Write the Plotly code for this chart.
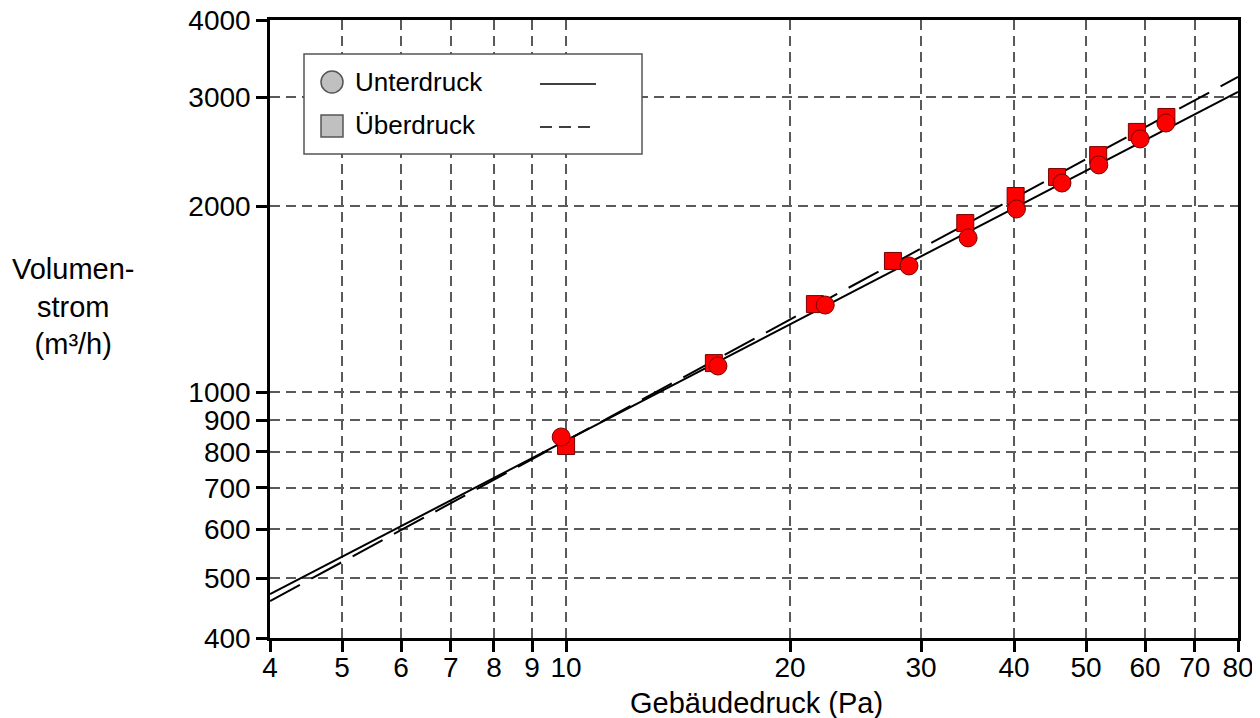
import plotly.graph_objects as go

# ---- data ----
unter_p = [9.85, 16.0, 22.3, 28.9, 34.7, 40.3, 46.4, 52.0, 59.1, 64.0]
unter_v = [846, 1102, 1383, 1600, 1776, 1978, 2179, 2331, 2568, 2725]
ueber_p = [10.0, 15.8, 21.6, 27.5, 34.4, 40.2, 45.7, 51.9, 58.5, 64.1]
ueber_v = [818, 1114, 1388, 1630, 1877, 2076, 2228, 2418, 2636, 2787]
fit_p = [4, 80]
unter_fit = [471, 3060]
ueber_fit = [459, 3236]
x_ticks = [4, 5, 6, 7, 8, 9, 10, 20, 30, 40, 50, 60, 70, 80]
y_ticks = [400, 500, 600, 700, 800, 900, 1000, 2000, 3000, 4000]

# page body has an 8px margin; size the figure so the plot area lands where intended
OFF = 8
W, H = 1260 - OFF, 718 - OFF
L, R, T, B = 270, 1238, 20, 638  # plot area in window pixels
FONT = "Liberation Sans, Arial, sans-serif"

def px(x):
    return (x - L) / (R - L)

def py(y):
    return (B - y) / (B - T)

fig = go.Figure()
fig.add_trace(go.Scatter(x=fit_p, y=unter_fit, mode="lines",
                         line=dict(color="black", width=2), showlegend=False))
fig.add_trace(go.Scatter(x=fit_p, y=ueber_fit, mode="lines",
                         line=dict(color="black", width=2, dash="34px,13px"), showlegend=False))
fig.add_trace(go.Scatter(x=ueber_p, y=ueber_v, mode="markers",
                         marker=dict(symbol="square", size=17, color="#ff0000",
                                     line=dict(color="#7a0000", width=1)),
                         showlegend=False))
fig.add_trace(go.Scatter(x=unter_p, y=unter_v, mode="markers",
                         marker=dict(symbol="circle", size=18, color="#ff0000",
                                     line=dict(color="#7a0000", width=1)),
                         showlegend=False))

axis_common = dict(
    type="log", showline=True, linecolor="black", linewidth=2.5, mirror=True,
    ticks="outside", ticklen=11, tickwidth=2.5, tickcolor="black",
    showgrid=True, gridcolor="#5a5a5a", gridwidth=1.5, griddash="10px,6px",
    zeroline=False, automargin=False, ticklabeloverflow="allow",
    tickfont=dict(family=FONT, size=28, color="black"),
)

fig.update_xaxes(range=[0.60206, 1.90309], tickvals=x_ticks,
                 ticktext=[str(v) for v in x_ticks], ticklabelstandoff=-8, **axis_common)
fig.update_yaxes(range=[2.60206, 3.60206], tickvals=y_ticks,
                 ticktext=[str(v) for v in y_ticks], **axis_common)

shapes = [
    dict(type="rect", xref="paper", yref="paper", x0=px(304), x1=px(642), y0=py(154), y1=py(54),
         line=dict(color="#555555", width=1.5), fillcolor="white", layer="above"),
    dict(type="circle", xref="paper", yref="paper", x0=px(321), x1=px(343), y0=py(93), y1=py(71),
         line=dict(color="#555555", width=1.5), fillcolor="#c0c0c0", layer="above"),
    dict(type="rect", xref="paper", yref="paper", x0=px(321), x1=px(343), y0=py(137), y1=py(115),
         line=dict(color="#555555", width=1.5), fillcolor="#c0c0c0", layer="above"),
    dict(type="line", xref="paper", yref="paper", x0=px(540), x1=px(596), y0=py(84), y1=py(84),
         line=dict(color="black", width=1.5), layer="above"),
    dict(type="line", xref="paper", yref="paper", x0=px(540), x1=px(596), y0=py(127), y1=py(127),
         line=dict(color="black", width=1.5, dash="12px,7px"), layer="above"),
]

annotations = [
    dict(text="Unterdruck", xref="paper", yref="paper", x=px(353), y=py(82),
         xanchor="left", yanchor="middle", showarrow=False,
         font=dict(family=FONT, size=26, color="black")),
    dict(text="Überdruck", xref="paper", yref="paper", x=px(353), y=py(125),
         xanchor="left", yanchor="middle", showarrow=False,
         font=dict(family=FONT, size=26, color="black")),
    dict(text="Volumen-<br>strom<br>(m³/h)", xref="paper", yref="paper", x=px(73), y=py(306),
         xanchor="center", yanchor="middle", showarrow=False, align="center",
         font=dict(family=FONT, size=29, color="black")),
    dict(text="Gebäudedruck (Pa)", xref="paper", yref="paper", x=px(756), y=py(703),
         xanchor="center", yanchor="middle", showarrow=False,
         font=dict(family=FONT, size=29, color="black")),
]

fig.update_layout(
    width=W, height=H,
    margin=dict(l=L - OFF, r=(1260 - R), t=T - OFF, b=718 - B),
    paper_bgcolor="white", plot_bgcolor="white",
    shapes=shapes, annotations=annotations,
    showlegend=False,
)

fig.write_html("out.html")
